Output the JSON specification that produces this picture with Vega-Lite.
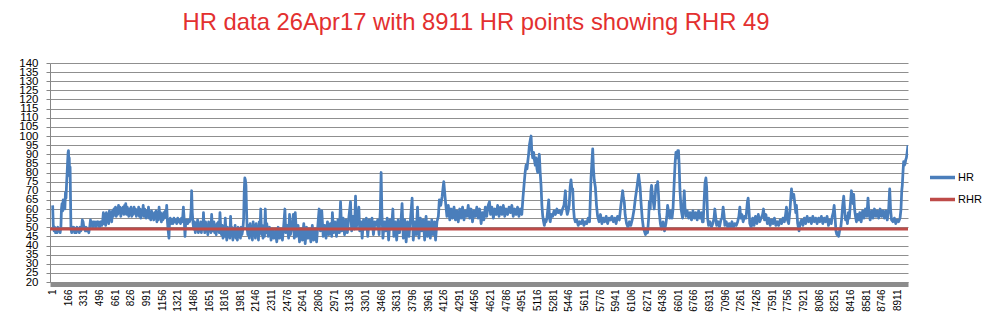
{
  "$schema": "https://vega.github.io/schema/vega-lite/v6.json",
  "autosize": {"type": "none"},
  "width": 858,
  "height": 219,
  "padding": {"left": 50, "top": 63, "right": 91, "bottom": 54},
  "background": "white",
  "title": {
    "text": "HR data 26Apr17 with 8911 HR points showing RHR 49",
    "font": "Liberation Sans",
    "fontSize": 23.8,
    "fontWeight": "normal",
    "color": "#e3302f",
    "anchor": "middle",
    "frame": "group",
    "dx": -3,
    "offset": 22
  },
  "config": {
    "view": {"stroke": null},
    "font": "Liberation Sans"
  },
  "datasets": {
    "hr": [
{"x":1,"HR":62},{"x":8,"HR":50},{"x":16,"HR":48},{"x":24,"HR":50},{"x":32,"HR":47},{"x":40,"HR":49},{"x":48,"HR":47},{"x":56,"HR":50},{"x":64,"HR":48},{"x":72,"HR":49},{"x":80,"HR":47},{"x":88,"HR":50},{"x":94,"HR":60},{"x":100,"HR":63},{"x":106,"HR":59},{"x":112,"HR":65},{"x":118,"HR":61},{"x":124,"HR":64},{"x":130,"HR":60},{"x":136,"HR":69},{"x":142,"HR":66},{"x":148,"HR":74},{"x":154,"HR":80},{"x":159,"HR":86},{"x":164,"HR":91},{"x":168,"HR":92},{"x":172,"HR":84},{"x":176,"HR":88},{"x":180,"HR":78},{"x":185,"HR":83},{"x":189,"HR":68},{"x":194,"HR":49},{"x":202,"HR":47},{"x":210,"HR":50},{"x":218,"HR":48},{"x":226,"HR":50},{"x":234,"HR":47},{"x":242,"HR":49},{"x":250,"HR":47},{"x":258,"HR":50},{"x":266,"HR":48},{"x":274,"HR":49},{"x":282,"HR":47},{"x":290,"HR":50},{"x":298,"HR":48},{"x":306,"HR":49},{"x":314,"HR":54},{"x":322,"HR":53},{"x":330,"HR":50},{"x":338,"HR":49},{"x":346,"HR":48},{"x":354,"HR":50},{"x":362,"HR":48},{"x":372,"HR":49},{"x":382,"HR":47},{"x":392,"HR":50},{"x":400,"HR":54},{"x":408,"HR":51},{"x":416,"HR":53},{"x":424,"HR":50},{"x":432,"HR":53},{"x":440,"HR":51},{"x":448,"HR":53},{"x":456,"HR":50},{"x":464,"HR":52},{"x":472,"HR":53},{"x":480,"HR":51},{"x":488,"HR":53},{"x":496,"HR":50},{"x":504,"HR":52},{"x":512,"HR":53},{"x":520,"HR":51},{"x":528,"HR":53},{"x":536,"HR":58},{"x":544,"HR":52},{"x":552,"HR":57},{"x":560,"HR":51},{"x":568,"HR":58},{"x":576,"HR":54},{"x":584,"HR":57},{"x":592,"HR":52},{"x":600,"HR":59},{"x":608,"HR":55},{"x":616,"HR":58},{"x":624,"HR":53},{"x":632,"HR":59},{"x":640,"HR":56},{"x":648,"HR":60},{"x":656,"HR":57},{"x":664,"HR":61},{"x":672,"HR":56},{"x":680,"HR":60},{"x":688,"HR":57},{"x":696,"HR":62},{"x":704,"HR":58},{"x":712,"HR":61},{"x":720,"HR":56},{"x":728,"HR":60},{"x":736,"HR":58},{"x":744,"HR":61},{"x":752,"HR":57},{"x":760,"HR":62},{"x":768,"HR":58},{"x":772,"HR":63},{"x":780,"HR":57},{"x":788,"HR":61},{"x":796,"HR":59},{"x":804,"HR":56},{"x":812,"HR":60},{"x":820,"HR":57},{"x":828,"HR":61},{"x":836,"HR":56},{"x":844,"HR":59},{"x":852,"HR":57},{"x":860,"HR":61},{"x":868,"HR":58},{"x":876,"HR":60},{"x":884,"HR":56},{"x":892,"HR":59},{"x":900,"HR":57},{"x":908,"HR":61},{"x":916,"HR":56},{"x":924,"HR":60},{"x":932,"HR":55},{"x":940,"HR":59},{"x":948,"HR":57},{"x":956,"HR":62},{"x":964,"HR":56},{"x":972,"HR":60},{"x":980,"HR":58},{"x":988,"HR":55},{"x":996,"HR":59},{"x":1004,"HR":56},{"x":1012,"HR":61},{"x":1020,"HR":55},{"x":1028,"HR":58},{"x":1036,"HR":54},{"x":1044,"HR":59},{"x":1052,"HR":56},{"x":1060,"HR":57},{"x":1068,"HR":54},{"x":1076,"HR":58},{"x":1084,"HR":55},{"x":1092,"HR":59},{"x":1100,"HR":53},{"x":1108,"HR":57},{"x":1116,"HR":54},{"x":1124,"HR":61},{"x":1132,"HR":55},{"x":1140,"HR":58},{"x":1148,"HR":53},{"x":1156,"HR":57},{"x":1164,"HR":54},{"x":1172,"HR":58},{"x":1180,"HR":55},{"x":1190,"HR":59},{"x":1198,"HR":56},{"x":1204,"HR":62},{"x":1212,"HR":53},{"x":1220,"HR":48},{"x":1228,"HR":44},{"x":1234,"HR":53},{"x":1242,"HR":55},{"x":1250,"HR":52},{"x":1260,"HR":54},{"x":1270,"HR":52},{"x":1280,"HR":55},{"x":1290,"HR":53},{"x":1300,"HR":54},{"x":1310,"HR":52},{"x":1320,"HR":55},{"x":1330,"HR":53},{"x":1340,"HR":54},{"x":1350,"HR":52},{"x":1360,"HR":55},{"x":1370,"HR":53},{"x":1380,"HR":61},{"x":1390,"HR":53},{"x":1397,"HR":45},{"x":1405,"HR":53},{"x":1415,"HR":54},{"x":1425,"HR":52},{"x":1435,"HR":54},{"x":1445,"HR":53},{"x":1455,"HR":55},{"x":1462,"HR":60},{"x":1467,"HR":70},{"x":1474,"HR":58},{"x":1482,"HR":52},{"x":1490,"HR":49},{"x":1498,"HR":53},{"x":1506,"HR":47},{"x":1514,"HR":52},{"x":1522,"HR":49},{"x":1530,"HR":54},{"x":1538,"HR":47},{"x":1546,"HR":51},{"x":1554,"HR":48},{"x":1562,"HR":53},{"x":1570,"HR":47},{"x":1578,"HR":52},{"x":1586,"HR":49},{"x":1592,"HR":58},{"x":1598,"HR":50},{"x":1606,"HR":47},{"x":1614,"HR":53},{"x":1622,"HR":48},{"x":1630,"HR":51},{"x":1638,"HR":46},{"x":1646,"HR":53},{"x":1654,"HR":49},{"x":1662,"HR":52},{"x":1670,"HR":47},{"x":1678,"HR":57},{"x":1686,"HR":50},{"x":1694,"HR":48},{"x":1702,"HR":53},{"x":1710,"HR":47},{"x":1718,"HR":51},{"x":1726,"HR":46},{"x":1734,"HR":52},{"x":1742,"HR":49},{"x":1750,"HR":53},{"x":1758,"HR":47},{"x":1766,"HR":58},{"x":1774,"HR":50},{"x":1782,"HR":46},{"x":1790,"HR":51},{"x":1798,"HR":44},{"x":1806,"HR":50},{"x":1814,"HR":45},{"x":1822,"HR":55},{"x":1830,"HR":47},{"x":1838,"HR":43},{"x":1846,"HR":50},{"x":1854,"HR":45},{"x":1862,"HR":49},{"x":1870,"HR":44},{"x":1878,"HR":56},{"x":1886,"HR":46},{"x":1894,"HR":50},{"x":1902,"HR":43},{"x":1910,"HR":49},{"x":1918,"HR":45},{"x":1926,"HR":51},{"x":1934,"HR":44},{"x":1942,"HR":48},{"x":1950,"HR":43},{"x":1958,"HR":50},{"x":1966,"HR":45},{"x":1974,"HR":49},{"x":1982,"HR":44},{"x":1990,"HR":50},{"x":1998,"HR":46},{"x":2008,"HR":49},{"x":2016,"HR":55},{"x":2022,"HR":70},{"x":2028,"HR":77},{"x":2034,"HR":76},{"x":2040,"HR":73},{"x":2046,"HR":60},{"x":2052,"HR":50},{"x":2060,"HR":46},{"x":2068,"HR":51},{"x":2076,"HR":44},{"x":2084,"HR":52},{"x":2092,"HR":46},{"x":2100,"HR":50},{"x":2108,"HR":43},{"x":2116,"HR":53},{"x":2124,"HR":47},{"x":2132,"HR":51},{"x":2140,"HR":44},{"x":2148,"HR":52},{"x":2156,"HR":46},{"x":2164,"HR":50},{"x":2172,"HR":43},{"x":2180,"HR":53},{"x":2188,"HR":47},{"x":2196,"HR":60},{"x":2204,"HR":46},{"x":2212,"HR":51},{"x":2220,"HR":44},{"x":2228,"HR":50},{"x":2236,"HR":45},{"x":2244,"HR":60},{"x":2252,"HR":47},
{"x":2260,"HR":52},{"x":2275,"HR":45},{"x":2290,"HR":50},{"x":2305,"HR":43},{"x":2320,"HR":49},{"x":2335,"HR":44},{"x":2350,"HR":48},{"x":2365,"HR":42},{"x":2380,"HR":50},{"x":2395,"HR":44},{"x":2410,"HR":49},{"x":2425,"HR":43},{"x":2440,"HR":52},{"x":2451,"HR":60},{"x":2460,"HR":47},{"x":2475,"HR":51},{"x":2490,"HR":44},{"x":2500,"HR":57},{"x":2510,"HR":46},{"x":2525,"HR":50},{"x":2540,"HR":57},{"x":2550,"HR":44},{"x":2560,"HR":58},{"x":2575,"HR":45},{"x":2590,"HR":51},{"x":2605,"HR":42},{"x":2620,"HR":49},{"x":2635,"HR":43},{"x":2650,"HR":52},{"x":2665,"HR":41},{"x":2680,"HR":50},{"x":2695,"HR":44},{"x":2710,"HR":48},{"x":2725,"HR":42},{"x":2740,"HR":51},{"x":2755,"HR":43},{"x":2770,"HR":49},{"x":2785,"HR":42},{"x":2800,"HR":52},{"x":2812,"HR":60},{"x":2825,"HR":48},{"x":2840,"HR":59},{"x":2855,"HR":45},{"x":2870,"HR":51},{"x":2885,"HR":44},{"x":2900,"HR":53},{"x":2915,"HR":46},{"x":2930,"HR":52},{"x":2945,"HR":45},{"x":2952,"HR":58},{"x":2965,"HR":47},{"x":2980,"HR":53},{"x":2995,"HR":45},{"x":3010,"HR":54},{"x":3025,"HR":47},{"x":3038,"HR":64},{"x":3050,"HR":48},{"x":3065,"HR":55},{"x":3080,"HR":46},{"x":3095,"HR":54},{"x":3110,"HR":47},{"x":3125,"HR":55},{"x":3143,"HR":64},{"x":3155,"HR":48},{"x":3170,"HR":56},{"x":3185,"HR":49},{"x":3196,"HR":67},{"x":3205,"HR":50},{"x":3220,"HR":55},{"x":3231,"HR":61},{"x":3240,"HR":48},{"x":3255,"HR":53},{"x":3266,"HR":44},{"x":3280,"HR":54},{"x":3295,"HR":49},{"x":3310,"HR":55},{"x":3325,"HR":45},{"x":3340,"HR":54},{"x":3355,"HR":50},{"x":3370,"HR":55},{"x":3385,"HR":46},{"x":3400,"HR":53},{"x":3415,"HR":51},{"x":3430,"HR":54},{"x":3445,"HR":46},{"x":3458,"HR":60},{"x":3466,"HR":80},{"x":3474,"HR":58},{"x":3485,"HR":44},{"x":3500,"HR":53},{"x":3515,"HR":48},{"x":3530,"HR":55},{"x":3545,"HR":43},{"x":3560,"HR":54},{"x":3575,"HR":49},{"x":3590,"HR":60},{"x":3600,"HR":45},{"x":3615,"HR":53},{"x":3630,"HR":43},{"x":3645,"HR":54},{"x":3660,"HR":47},{"x":3675,"HR":53},{"x":3687,"HR":63},{"x":3700,"HR":44},{"x":3715,"HR":54},{"x":3730,"HR":42},{"x":3745,"HR":53},{"x":3760,"HR":45},{"x":3775,"HR":54},{"x":3793,"HR":66},{"x":3805,"HR":43},{"x":3820,"HR":53},{"x":3835,"HR":46},{"x":3850,"HR":61},{"x":3865,"HR":44},{"x":3880,"HR":55},{"x":3895,"HR":48},{"x":3910,"HR":54},{"x":3925,"HR":43},{"x":3940,"HR":56},{"x":3955,"HR":45},{"x":3970,"HR":53},{"x":3985,"HR":44},{"x":4000,"HR":54},{"x":4015,"HR":46},{"x":4030,"HR":53},{"x":4040,"HR":43},{"x":4055,"HR":53},{"x":4070,"HR":56},{"x":4080,"HR":65},{"x":4095,"HR":62},{"x":4110,"HR":67},{"x":4120,"HR":72},{"x":4127,"HR":75},{"x":4135,"HR":70},{"x":4145,"HR":64},{"x":4160,"HR":56},{"x":4175,"HR":62},{"x":4190,"HR":54},{"x":4205,"HR":60},{"x":4220,"HR":55},{"x":4235,"HR":61},{"x":4250,"HR":54},{"x":4265,"HR":59},{"x":4280,"HR":53},{"x":4295,"HR":60},{"x":4310,"HR":55},{"x":4325,"HR":61},{"x":4340,"HR":54},{"x":4355,"HR":59},{"x":4370,"HR":56},{"x":4385,"HR":62},{"x":4400,"HR":55},{"x":4415,"HR":60},{"x":4430,"HR":53},{"x":4445,"HR":59},{"x":4460,"HR":56},{"x":4475,"HR":61},{"x":4490,"HR":55},{"x":4505,"HR":60},
{"x":4521,"HR":52},{"x":4535,"HR":58},{"x":4550,"HR":54},{"x":4565,"HR":61},{"x":4580,"HR":56},{"x":4595,"HR":62},{"x":4609,"HR":64},{"x":4620,"HR":57},{"x":4635,"HR":61},{"x":4650,"HR":55},{"x":4665,"HR":60},{"x":4680,"HR":57},{"x":4695,"HR":62},{"x":4710,"HR":56},{"x":4725,"HR":61},{"x":4740,"HR":57},{"x":4755,"HR":62},{"x":4770,"HR":56},{"x":4785,"HR":60},{"x":4800,"HR":57},{"x":4815,"HR":61},{"x":4830,"HR":58},{"x":4845,"HR":62},{"x":4860,"HR":56},{"x":4875,"HR":60},{"x":4890,"HR":57},{"x":4905,"HR":61},{"x":4920,"HR":56},{"x":4935,"HR":60},{"x":4950,"HR":57},{"x":4962,"HR":66},{"x":4975,"HR":74},{"x":4985,"HR":80},{"x":4995,"HR":84},{"x":5005,"HR":82},{"x":5013,"HR":86},{"x":5022,"HR":90},{"x":5030,"HR":95},{"x":5040,"HR":98},{"x":5048,"HR":100},{"x":5055,"HR":92},{"x":5065,"HR":88},{"x":5075,"HR":91},{"x":5083,"HR":87},{"x":5092,"HR":84},{"x":5100,"HR":88},{"x":5110,"HR":82},{"x":5118,"HR":80},{"x":5126,"HR":86},{"x":5135,"HR":90},{"x":5144,"HR":80},{"x":5153,"HR":73},{"x":5162,"HR":62},{"x":5171,"HR":56},{"x":5180,"HR":53},{"x":5188,"HR":51},{"x":5197,"HR":54},{"x":5206,"HR":53},{"x":5215,"HR":55},{"x":5225,"HR":60},{"x":5234,"HR":65},{"x":5242,"HR":55},{"x":5250,"HR":53},{"x":5260,"HR":57},{"x":5275,"HR":56},{"x":5290,"HR":59},{"x":5305,"HR":57},{"x":5320,"HR":60},{"x":5335,"HR":58},{"x":5350,"HR":59},{"x":5365,"HR":57},{"x":5380,"HR":60},{"x":5395,"HR":62},{"x":5410,"HR":70},{"x":5420,"HR":60},{"x":5430,"HR":57},{"x":5440,"HR":59},{"x":5450,"HR":62},{"x":5460,"HR":72},{"x":5469,"HR":76},{"x":5478,"HR":71},{"x":5487,"HR":71},{"x":5496,"HR":60},{"x":5504,"HR":55},{"x":5515,"HR":53},{"x":5530,"HR":54},{"x":5545,"HR":51},{"x":5560,"HR":53},{"x":5575,"HR":52},{"x":5590,"HR":54},{"x":5605,"HR":51},{"x":5620,"HR":53},{"x":5635,"HR":52},{"x":5650,"HR":55},{"x":5665,"HR":53},{"x":5680,"HR":77},{"x":5690,"HR":86},{"x":5698,"HR":93},{"x":5706,"HR":82},{"x":5714,"HR":76},{"x":5726,"HR":72},{"x":5738,"HR":62},{"x":5750,"HR":56},{"x":5765,"HR":53},{"x":5780,"HR":57},{"x":5795,"HR":52},{"x":5810,"HR":55},{"x":5825,"HR":53},{"x":5840,"HR":56},{"x":5855,"HR":52},{"x":5870,"HR":55},{"x":5885,"HR":54},{"x":5900,"HR":56},{"x":5915,"HR":53},{"x":5930,"HR":55},{"x":5945,"HR":52},{"x":5960,"HR":56},{"x":5979,"HR":54},{"x":5995,"HR":62},{"x":6005,"HR":66},{"x":6014,"HR":70},{"x":6022,"HR":66},{"x":6031,"HR":64},{"x":6040,"HR":57},{"x":6055,"HR":52},{"x":6070,"HR":50},{"x":6085,"HR":53},{"x":6100,"HR":51},{"x":6119,"HR":55},{"x":6135,"HR":60},{"x":6146,"HR":65},{"x":6154,"HR":68},{"x":6165,"HR":72},{"x":6175,"HR":76},{"x":6182,"HR":79},{"x":6189,"HR":76},{"x":6198,"HR":72},{"x":6207,"HR":64},{"x":6220,"HR":55},{"x":6232,"HR":50},{"x":6242,"HR":48},{"x":6255,"HR":46},{"x":6265,"HR":49},{"x":6277,"HR":47},{"x":6288,"HR":55},{"x":6295,"HR":64},{"x":6305,"HR":60},{"x":6312,"HR":70},{"x":6319,"HR":73},{"x":6328,"HR":68},{"x":6337,"HR":64},{"x":6347,"HR":60},{"x":6356,"HR":66},{"x":6365,"HR":73},{"x":6374,"HR":70},{"x":6383,"HR":75},{"x":6392,"HR":68},{"x":6400,"HR":58},{"x":6412,"HR":52},{"x":6425,"HR":49},{"x":6440,"HR":53},{"x":6455,"HR":48},{"x":6470,"HR":52},{"x":6480,"HR":56},{"x":6488,"HR":62},{"x":6500,"HR":58},{"x":6512,"HR":55},{"x":6523,"HR":59},{"x":6535,"HR":55},{"x":6545,"HR":60},{"x":6558,"HR":75},{"x":6567,"HR":85},{"x":6576,"HR":91},{"x":6586,"HR":88},{"x":6595,"HR":92},{"x":6603,"HR":92},{"x":6610,"HR":84},{"x":6618,"HR":71},{"x":6630,"HR":60},{"x":6646,"HR":55},{"x":6655,"HR":62},{"x":6664,"HR":70},{"x":6672,"HR":60},{"x":6681,"HR":56},{"x":6695,"HR":59},{"x":6710,"HR":55},{"x":6725,"HR":58},{"x":6740,"HR":54},{"x":6755,"HR":59},
{"x":6770,"HR":55},{"x":6785,"HR":58},{"x":6800,"HR":54},{"x":6815,"HR":59},{"x":6830,"HR":55},{"x":6845,"HR":58},{"x":6855,"HR":53},{"x":6864,"HR":53},{"x":6873,"HR":64},{"x":6882,"HR":74},{"x":6892,"HR":77},{"x":6900,"HR":72},{"x":6910,"HR":55},{"x":6920,"HR":51},{"x":6935,"HR":53},{"x":6950,"HR":50},{"x":6965,"HR":52},{"x":6978,"HR":55},{"x":6986,"HR":60},{"x":6995,"HR":56},{"x":7005,"HR":51},{"x":7020,"HR":53},{"x":7035,"HR":50},{"x":7050,"HR":54},{"x":7062,"HR":55},{"x":7074,"HR":61},{"x":7083,"HR":57},{"x":7092,"HR":51},{"x":7107,"HR":53},{"x":7122,"HR":50},{"x":7137,"HR":52},{"x":7152,"HR":50},{"x":7167,"HR":53},{"x":7182,"HR":50},{"x":7197,"HR":52},{"x":7212,"HR":51},{"x":7227,"HR":53},{"x":7240,"HR":56},{"x":7250,"HR":61},{"x":7260,"HR":55},{"x":7272,"HR":57},{"x":7285,"HR":53},{"x":7300,"HR":56},{"x":7315,"HR":55},{"x":7330,"HR":64},{"x":7338,"HR":66},{"x":7346,"HR":60},{"x":7355,"HR":52},{"x":7370,"HR":50},{"x":7385,"HR":55},{"x":7400,"HR":51},{"x":7415,"HR":56},{"x":7430,"HR":52},{"x":7445,"HR":57},{"x":7460,"HR":53},{"x":7475,"HR":55},{"x":7490,"HR":57},{"x":7500,"HR":60},{"x":7510,"HR":54},{"x":7525,"HR":57},{"x":7540,"HR":52},{"x":7555,"HR":55},{"x":7570,"HR":51},{"x":7585,"HR":54},{"x":7600,"HR":52},{"x":7615,"HR":55},{"x":7630,"HR":51},{"x":7645,"HR":53},{"x":7660,"HR":51},{"x":7675,"HR":54},{"x":7690,"HR":52},{"x":7705,"HR":55},{"x":7720,"HR":53},{"x":7730,"HR":56},{"x":7742,"HR":61},{"x":7752,"HR":54},{"x":7765,"HR":52},{"x":7780,"HR":60},{"x":7790,"HR":68},{"x":7795,"HR":71},{"x":7805,"HR":66},{"x":7819,"HR":68},{"x":7830,"HR":63},{"x":7840,"HR":58},{"x":7847,"HR":62},{"x":7860,"HR":52},{"x":7875,"HR":48},{"x":7885,"HR":52},{"x":7900,"HR":54},{"x":7915,"HR":51},{"x":7930,"HR":55},{"x":7945,"HR":52},{"x":7960,"HR":56},{"x":7975,"HR":53},{"x":7990,"HR":55},{"x":8005,"HR":52},{"x":8020,"HR":56},{"x":8035,"HR":53},{"x":8050,"HR":55},{"x":8065,"HR":52},{"x":8080,"HR":55},{"x":8095,"HR":53},{"x":8110,"HR":56},{"x":8125,"HR":52},{"x":8140,"HR":55},{"x":8155,"HR":53},{"x":8170,"HR":56},{"x":8185,"HR":51},{"x":8200,"HR":54},{"x":8215,"HR":52},{"x":8225,"HR":56},{"x":8235,"HR":58},{"x":8245,"HR":62},{"x":8255,"HR":55},{"x":8264,"HR":48},{"x":8273,"HR":46},{"x":8282,"HR":47},{"x":8292,"HR":45},{"x":8302,"HR":48},{"x":8315,"HR":50},{"x":8325,"HR":55},{"x":8335,"HR":62},{"x":8346,"HR":67},{"x":8355,"HR":60},{"x":8365,"HR":54},{"x":8374,"HR":56},{"x":8385,"HR":52},{"x":8395,"HR":58},{"x":8405,"HR":55},{"x":8415,"HR":62},{"x":8427,"HR":70},{"x":8436,"HR":67},{"x":8445,"HR":63},{"x":8451,"HR":68},{"x":8460,"HR":60},{"x":8470,"HR":56},{"x":8480,"HR":53},{"x":8490,"HR":57},{"x":8505,"HR":54},{"x":8515,"HR":58},{"x":8530,"HR":53},{"x":8545,"HR":59},{"x":8560,"HR":55},{"x":8575,"HR":60},{"x":8590,"HR":56},{"x":8602,"HR":66},{"x":8612,"HR":58},{"x":8625,"HR":54},{"x":8640,"HR":59},{"x":8655,"HR":55},{"x":8670,"HR":60},{"x":8685,"HR":56},{"x":8700,"HR":59},{"x":8715,"HR":55},{"x":8730,"HR":60},{"x":8745,"HR":56},{"x":8760,"HR":59},{"x":8775,"HR":55},{"x":8790,"HR":59},{"x":8805,"HR":54},{"x":8820,"HR":60},{"x":8831,"HR":71},{"x":8840,"HR":60},{"x":8850,"HR":54},{"x":8865,"HR":53},{"x":8880,"HR":55},{"x":8895,"HR":52},{"x":8910,"HR":54},{"x":8925,"HR":53},{"x":8940,"HR":55},{"x":8950,"HR":60},{"x":8958,"HR":70},{"x":8964,"HR":73},{"x":8971,"HR":80},{"x":8978,"HR":86},{"x":8986,"HR":84},{"x":8994,"HR":85},{"x":9000,"HR":87},{"x":9007,"HR":88},{"x":9015,"HR":91},{"x":9024,"HR":95}
    ],
    "rhr": [
      {"x": -27, "RHR": 49},
      {"x": 9024, "RHR": 49}
    ]
  },
  "layer": [
    {
      "data": {"name": "hr"},
      "mark": {"type": "line", "strokeWidth": 2.75, "strokeJoin": "round", "clip": true},
      "encoding": {
        "x": {
          "field": "x", "type": "quantitative",
          "scale": {"domain": [-27, 9024], "nice": false, "zero": false},
          "axis": {
            "title": null,
            "values": [1,166,331,496,661,826,991,1156,1321,1486,1651,1816,1981,2146,2311,2476,2641,2806,2971,3136,3301,3466,3631,3796,3961,4126,4291,4456,4621,4786,4951,5116,5281,5446,5611,5776,5941,6106,6271,6436,6601,6766,6931,7096,7261,7426,7591,7756,7921,8086,8251,8416,8581,8746,8911],
            "tickCount": 1000,
            "format": "d",
            "labelAngle": -90,
            "labelFontSize": 10,
            "labelColor": "#000000",
            "labelOverlap": false,
            "labelFlush": false,
            "labelPadding": 5,
            "ticks": false,
            "grid": false,
            "domainColor": "#8c8c8c",
            "domainWidth": 5,
            "offset": 2
          }
        },
        "y": {
          "field": "HR", "type": "quantitative",
          "scale": {"domain": [20, 140], "nice": false, "zero": false},
          "axis": {
            "title": null,
            "values": [20,25,30,35,40,45,50,55,60,65,70,75,80,85,90,95,100,105,110,115,120,125,130,135,140],
            "tickCount": 1000,
            "format": "d",
            "labelFontSize": 11.5,
            "labelColor": "#000000",
            "labelOverlap": false,
            "labelFlush": false,
            "labelPadding": 8,
            "tickSize": 4,
            "tickColor": "#868686",
            "domainColor": "#868686",
            "grid": true,
            "gridColor": "#8f8f8f",
            "gridWidth": 1
          }
        },
        "color": {
          "datum": "HR",
          "scale": {"domain": ["HR", "RHR"], "range": ["#4a7ebb", "#be4b48"]},
          "legend": {
            "title": null,
            "orient": "none",
            "legendX": 878,
            "legendY": 100,
            "symbolType": "stroke",
            "symbolSize": 625,
            "symbolStrokeWidth": 3.5,
            "labelFontSize": 11,
            "labelColor": "#000000",
            "labelOffset": 1,
            "rowPadding": 0
          }
        }
      }
    },
    {
      "data": {"name": "rhr"},
      "mark": {"type": "line", "strokeWidth": 3, "clip": true},
      "encoding": {
        "x": {"field": "x", "type": "quantitative"},
        "y": {"field": "RHR", "type": "quantitative"},
        "color": {"datum": "RHR"}
      }
    }
  ]
}
